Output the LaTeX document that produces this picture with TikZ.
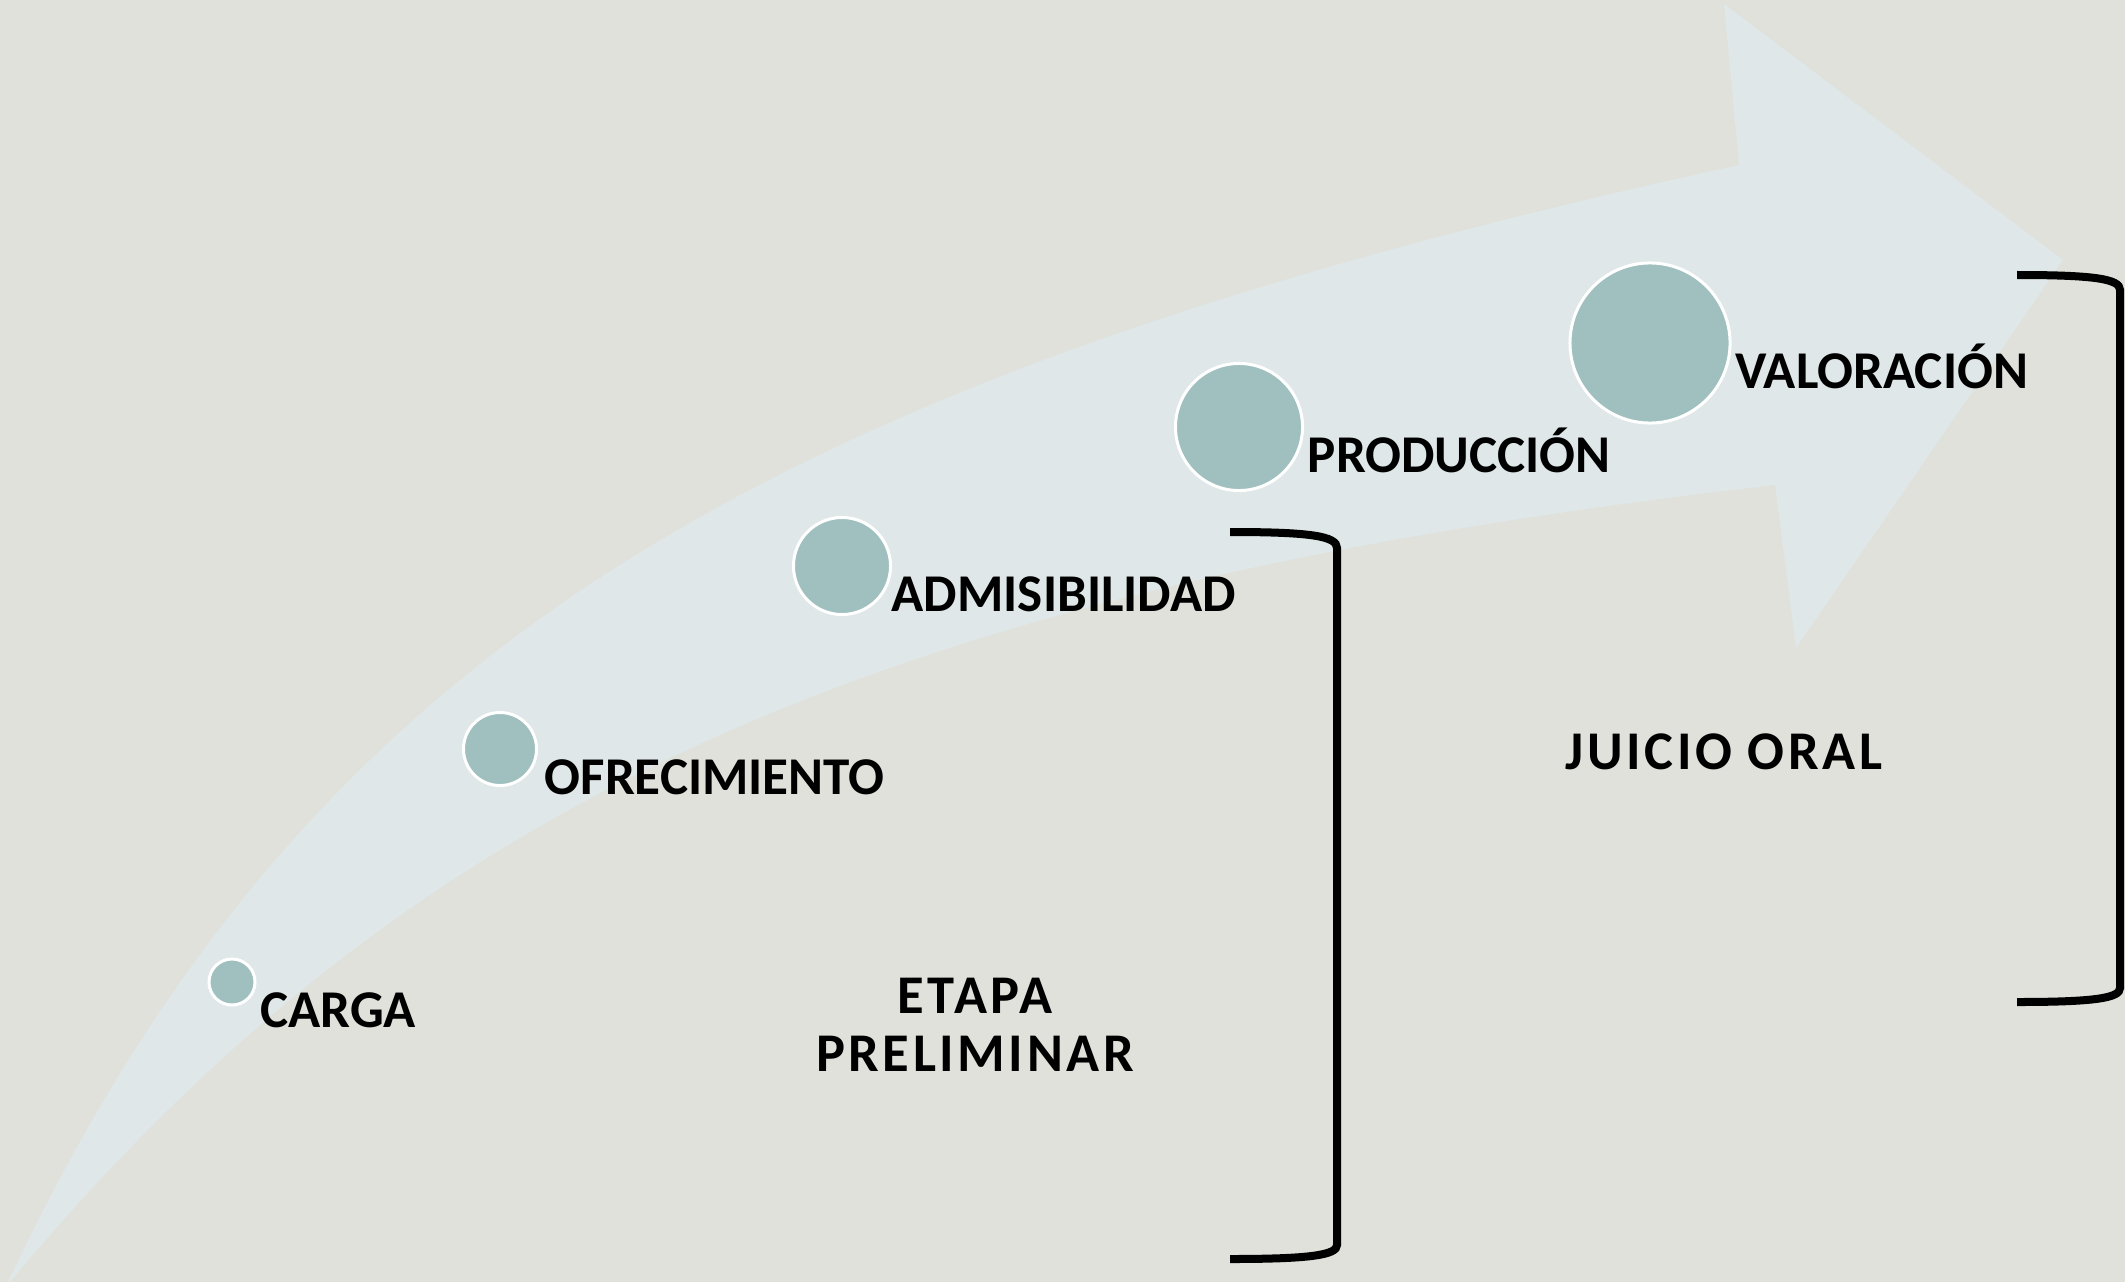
\documentclass[tikz,border=0pt]{standalone}
\usepackage{fontspec}
\setmainfont{Carlito}
\usetikzlibrary{positioning}

\definecolor{bgcol}{HTML}{E0E1DB}
\definecolor{arrowcol}{HTML}{DFE7E8}
\definecolor{stagecol}{HTML}{9FC0BF}

\begin{document}
\begin{tikzpicture}[x=0.01cm, y=-0.01cm,
  stage/.style={circle, fill=stagecol, draw=white, line width=0.03cm, inner sep=0pt, minimum size=#1},
  stagetext/.style={font=\fontsize{15.1}{18}\selectfont\bfseries, inner sep=0pt, anchor=base west},
  phasetext/.style={font=\fontsize{15.5}{16.5}\selectfont\bfseries\addfontfeatures{LetterSpace=6.5}, align=center, inner sep=0pt},
  bracket/.style={line width=0.08cm}]

% Background
\useasboundingbox (0,0) rectangle (2125,1282);
\fill[bgcol] (0,0) rectangle (2125,1282);

% Arrow
\fill[arrowcol] (8,1282) .. controls (306,648) and (762,378) .. (1739,165)
  -- (1724,4) -- (2063,260) -- (1796,648) -- (1775,485)
  .. controls (881,587) and (413,798) .. (10,1282) -- cycle;

% Stages
\node (carga) [stage=0.46cm] at (232,982) {};
\node (ofrec) [stage=0.73cm] at (500,749) {};
\node (admis) [stage=0.97cm] at (842,566) {};
\node (prod)  [stage=1.27cm] at (1239,427) {};
\node (valor) [stage=1.60cm] at (1650,343) {};

\node (lcarga) [stagetext] at ([shift={(3,45)}]carga.east) {CARGA};
\node (lofrec) [stagetext] at ([shift={(6,45)}]ofrec.east) {OFRECIMIENTO};
\node (ladmis) [stagetext] at ([shift={(-1,45)}]admis.east) {ADMISIBILIDAD};
\node (lprod)  [stagetext] at ([shift={(3,45)}]prod.east) {PRODUCCIÓN};
\node (lvalor) [stagetext] at ([shift={(3,45)}]valor.east) {VALORACIÓN};

% Phases
\node (prelim) [phasetext] at (975,1025) {ETAPA\\PRELIMINAR};
\node (juicio) [phasetext, anchor=base] at (1724,769) {JUICIO ORAL};

% Brackets
\draw[bracket] (1230,532) .. controls (1310,532) and (1337,536) .. (1337,548) -- (1337,1245)
  .. controls (1337,1255) and (1310,1259) .. (1230,1259);
\draw[bracket] (2017,275) .. controls (2095,275) and (2120,279) .. (2120,290) -- (2120,988)
  .. controls (2120,998) and (2095,1002) .. (2017,1002);

\end{tikzpicture}
\end{document}
